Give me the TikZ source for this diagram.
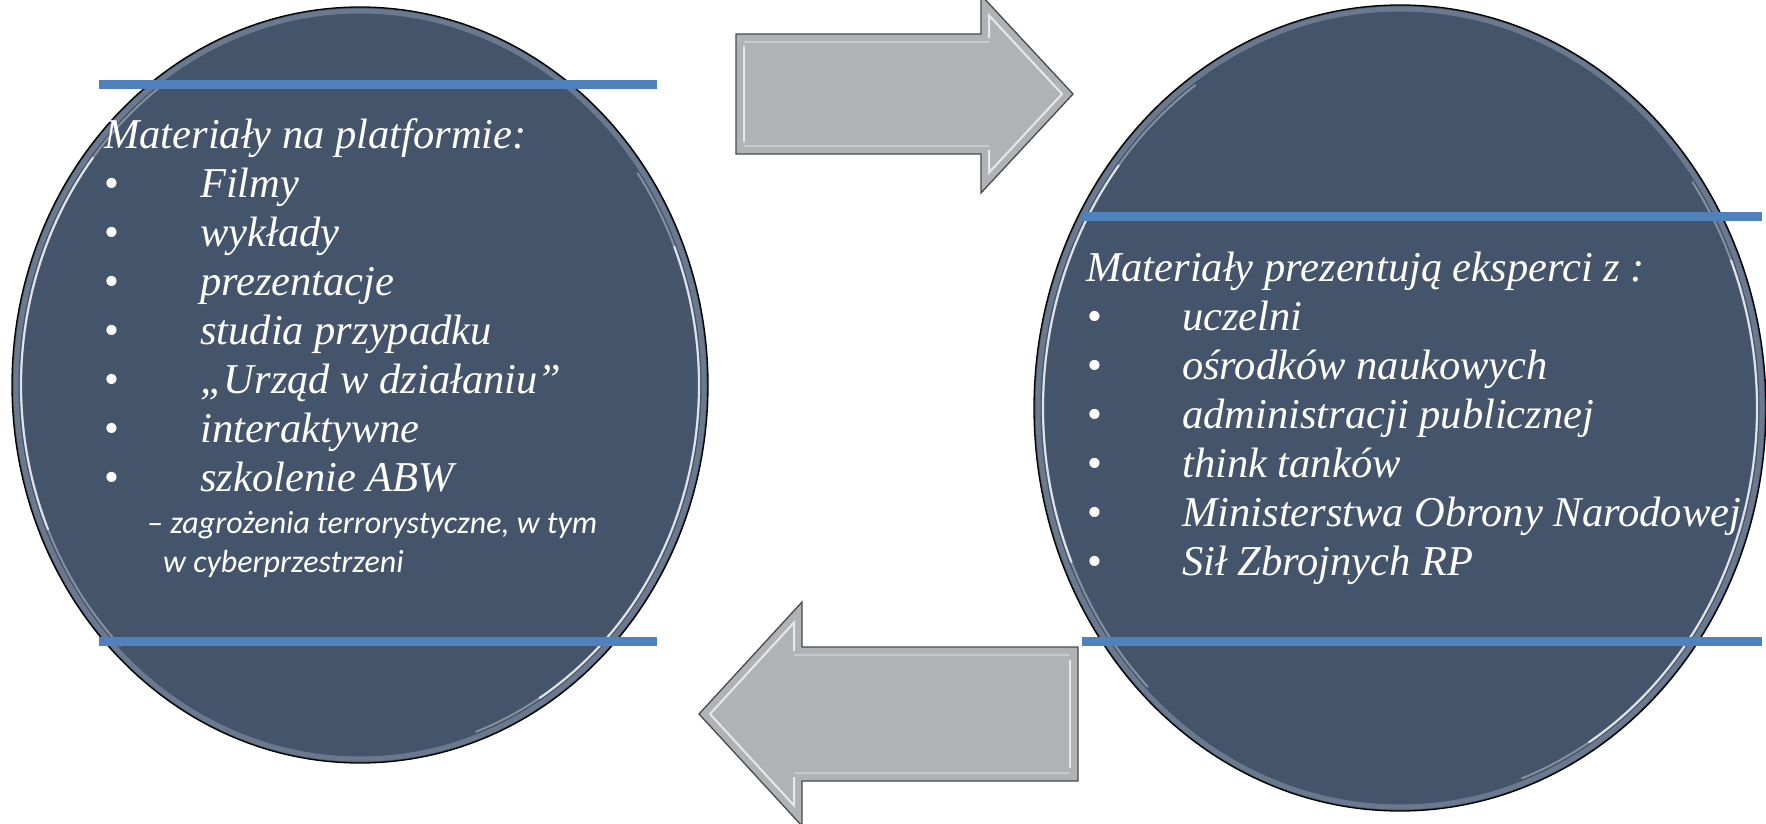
\documentclass[tikz,border=0pt]{standalone}
\usepackage{fontspec}
\setmainfont{Liberation Serif}
\newfontfamily\calibfont{Carlito}
\definecolor{discfill}{HTML}{44546A}
\definecolor{bandblue}{HTML}{4F81BD}
\definecolor{arrowgray}{HTML}{B1B2B6}
\definecolor{arrowedge}{HTML}{4A4A4A}
\definecolor{ringcol}{HTML}{9AA8BA}
\newcommand{\blt}[2]{\makebox[#1][l]{\upshape •}#2}
\begin{document}
\begin{tikzpicture}[x=1pt,y=1pt,
  disc/.style={fill=discfill, draw=black, line width=1.3pt},
  discring/.style={draw=ringcol, line width=5pt, opacity=0.45},
  discshine/.style={draw=white, line width=2.2pt, opacity=0.75, line cap=round},
  discshinesoft/.style={draw=white, line width=2pt, opacity=0.35, line cap=round},
  band/.style={draw=bandblue, line width=9pt},
  bigarrow/.style={fill=arrowgray, draw=arrowedge, line width=1.3pt, line join=miter},
  arrowshine/.style={draw=white, line width=2pt, opacity=0.7, line join=miter},
  arrowshinesoft/.style={draw=white, line width=1.6pt, opacity=0.3},
  ttl/.style={anchor=base west, inner sep=0pt, text=white, font=\fontsize{42.5}{49}\selectfont\itshape},
  sub/.style={anchor=base west, inner sep=0pt, text=white, font=\calibfont\fontsize{32}{38}\selectfont\itshape},
]
\useasboundingbox (0,0) rectangle (1766,-824);
\clip (0,0) rectangle (1766,-824);
\fill[white] (0,0) rectangle (1766,-824);

% left disc
\draw[disc] (360,-385) ellipse [x radius=348pt, y radius=378pt];
\draw[discring] (360,-385) ellipse [x radius=344pt, y radius=374pt];
\draw[discshinesoft] (360,-385) ++(125:339pt and 369pt) arc [start angle=125, end angle=225, x radius=339pt, y radius=369pt];
\draw[discshine] (360,-385) ++(142:339pt and 369pt) arc [start angle=142, end angle=203, x radius=339pt, y radius=369pt];
\draw[discshinesoft] (360,-385) ++(35:339pt and 369pt) arc [start angle=35, end angle=-70, x radius=339pt, y radius=369pt];
\draw[discshine] (360,-385) ++(22:339pt and 369pt) arc [start angle=22, end angle=-58, x radius=339pt, y radius=369pt];
\draw[band] (99,-84.5) -- (657,-84.5);
\draw[band] (99,-641.5) -- (657,-641.5);

% right disc
\draw[disc] (1400,-408) ellipse [x radius=366pt, y radius=403pt];
\draw[discring] (1400,-408) ellipse [x radius=362pt, y radius=399pt];
\draw[discshinesoft] (1400,-408) ++(125:357pt and 394pt) arc [start angle=125, end angle=225, x radius=357pt, y radius=394pt];
\draw[discshine] (1400,-408) ++(142:357pt and 394pt) arc [start angle=142, end angle=203, x radius=357pt, y radius=394pt];
\draw[discshinesoft] (1400,-408) ++(35:357pt and 394pt) arc [start angle=35, end angle=-70, x radius=357pt, y radius=394pt];
\draw[discshine] (1400,-408) ++(22:357pt and 394pt) arc [start angle=22, end angle=-58, x radius=357pt, y radius=394pt];
\draw[band] (1082,-216.5) -- (1762,-216.5);
\draw[band] (1082,-641) -- (1762,-641);

% top arrow (to the right)
\draw[bigarrow] (736,-34) -- (981,-34) -- (981,5) -- (1073,-94) -- (981,-193) -- (981,-154) -- (736,-154) -- cycle;
\draw[arrowshinesoft] (744,-42) -- (989,-42);
\draw[arrowshinesoft] (744,-146) -- (989,-146);
\draw[arrowshine] (744,-46) -- (744,-142);
\draw[arrowshine] (989,-38) -- (989,-15.4) -- (1062,-94) -- (989,-172.6) -- (989,-150);

% bottom arrow (to the left)
\draw[bigarrow] (1078,-647) -- (802,-647) -- (802,-602) -- (699,-714) -- (802,-826) -- (802,-781) -- (1078,-781) -- cycle;
\draw[arrowshinesoft] (1070,-655) -- (794,-655);
\draw[arrowshinesoft] (1070,-773) -- (794,-773);
\draw[arrowshine] (1070,-660) -- (1070,-768);
\draw[arrowshine] (794,-651) -- (794,-622.5) -- (710,-714) -- (794,-805.5) -- (794,-777);

% left texts
\node[ttl] (l0) at (104,-148) {Materiały na platformie:};
\node[ttl] (l1) at (104,-197) {\blt{96pt}{Filmy}};
\node[ttl] (l2) at (104,-246) {\blt{96pt}{wykłady}};
\node[ttl] (l3) at (104,-295) {\blt{96pt}{prezentacje}};
\node[ttl] (l4) at (104,-344) {\blt{96pt}{studia przypadku}};
\node[ttl] (l5) at (104,-393) {\blt{96pt}{„Urząd w działaniu”}};
\node[ttl] (l6) at (104,-442) {\blt{96pt}{interaktywne}};
\node[ttl] (l7) at (104,-491) {\blt{96pt}{szkolenie ABW}};
\node[sub] (l8) at (147,-533) {– zagrożenia terrorystyczne, w tym};
\node[sub] (l9) at (163,-572) {w cyberprzestrzeni};

% right texts
\node[ttl] (r0) at (1086,-281) {Materiały prezentują eksperci z :};
\node[ttl] (r1) at (1087,-330) {\blt{95pt}{uczelni}};
\node[ttl] (r2) at (1087,-379) {\blt{95pt}{ośrodków naukowych}};
\node[ttl] (r3) at (1087,-428) {\blt{95pt}{administracji publicznej}};
\node[ttl] (r4) at (1087,-477) {\blt{95pt}{think tanków}};
\node[ttl] (r5) at (1087,-526) {\blt{95pt}{Ministerstwa Obrony Narodowej}};
\node[ttl] (r6) at (1087,-575) {\blt{95pt}{Sił Zbrojnych RP}};
\end{tikzpicture}
\end{document}
